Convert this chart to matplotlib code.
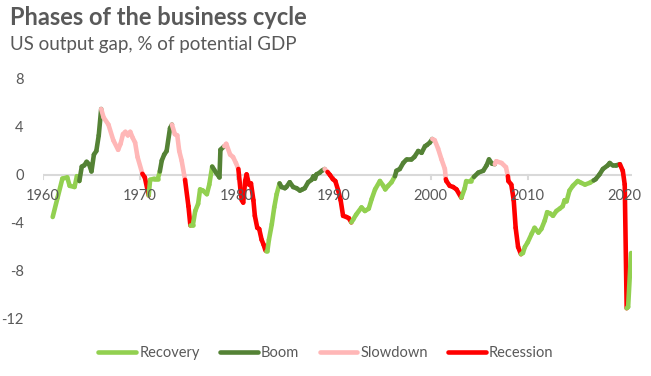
import numpy as np
import matplotlib
matplotlib.use("Agg")
import matplotlib.pyplot as plt

# US output gap readings (% of potential GDP)
years = [
    1961.0, 1961.5, 1962.0, 1962.5, 1962.75, 1963.25, 1963.5, 1963.75,
    1964.0, 1964.25, 1964.5, 1964.75, 1965.0, 1965.25, 1965.5, 1965.75, 1966.0,
    1966.25, 1966.75, 1967.25, 1967.75, 1968.0, 1968.25, 1968.5, 1968.75, 1969.0,
    1969.25, 1969.5, 1969.75, 1970.25,
    1970.5, 1970.9,
    1971.05, 1971.5, 1971.85, 1972.05,
    1972.25, 1972.5, 1972.75, 1973.1, 1973.3,
    1973.6, 1973.85, 1974.05, 1974.3, 1974.65,
    1975.0, 1975.2,
    1975.45, 1975.7, 1976.0, 1976.2, 1976.5, 1976.9, 1977.15, 1977.45,
    1977.85, 1978.2, 1978.3, 1978.7,
    1978.9, 1979.3, 1979.6, 1979.9, 1980.15,
    1980.35, 1980.5, 1980.65, 1980.85, 1981.0, 1981.25, 1981.45, 1981.7, 1981.85,
    1982.1, 1982.3, 1982.55, 1982.75, 1982.95,
    1983.15, 1983.3, 1983.6, 1983.85, 1984.1, 1984.4,
    1984.6, 1984.95, 1985.1, 1985.45, 1985.8, 1986.15, 1986.5, 1986.75, 1987.0,
    1987.35, 1987.7, 1987.9, 1988.05, 1988.2, 1988.55, 1988.75, 1989.05,
    1989.35,
    1989.6, 1989.9, 1990.15, 1990.45, 1990.7, 1990.95, 1991.3, 1991.55, 1991.8,
    1992.0, 1992.3, 1992.85, 1993.2, 1993.6, 1993.9, 1994.25, 1994.75, 1995.1,
    1995.3, 1995.6, 1995.95, 1996.3,
    1996.45, 1996.8, 1997.15, 1997.5, 1998.0, 1998.3, 1998.7, 1999.05, 1999.4,
    1999.6, 1999.9, 2000.15,
    2000.4, 2000.75, 2001.1, 2001.45, 2001.55,
    2001.6, 2001.95, 2002.3, 2002.65, 2003.15,
    2003.5, 2003.65, 2004.1, 2004.45,
    2004.9, 2005.4, 2005.75, 2006.0, 2006.3, 2006.6,
    2006.75, 2007.3, 2007.75, 2007.95,
    2008.0, 2008.3, 2008.55, 2008.75, 2009.0, 2009.3,
    2009.5, 2009.7, 2010.0, 2010.4, 2010.7, 2011.1, 2011.4, 2011.75, 2012.0,
    2012.3, 2012.6, 2012.95, 2013.3, 2013.6, 2013.8, 2014.0, 2014.3, 2014.65,
    2015.15, 2015.5, 2015.9, 2016.4, 2016.8,
    2017.0, 2017.4, 2017.75, 2018.25, 2018.45, 2018.75, 2019.1, 2019.5,
    2019.8, 2020.0, 2020.2,
    2020.35, 2020.65,
]
gap = [
    -3.5, -1.9, -0.3, -0.2, -0.9, -1.0, -0.1, -0.5,
    0.7, 0.8, 1.1, 0.9, 0.3, 1.7, 2.0, 3.3, 5.5,
    4.8, 4.2, 2.9, 2.1, 2.6, 3.4, 3.6, 3.3, 3.6,
    3.1, 2.7, 1.5, 0.1,
    -0.2, -1.7,
    -0.4, -0.3, -0.3, 0.3,
    1.2, 1.7, 2.0, 3.9, 4.2,
    3.4, 3.3, 2.0, 1.2, -0.4,
    -2.6, -4.2,
    -4.2, -3.0, -2.4, -1.2, -1.3, -1.6, -0.8, 0.7,
    0.2, -0.2, 2.1, 2.4,
    2.6, 1.7, 1.5, 1.0, 0.5,
    -1.1, -2.1, -2.3, -0.5, 0.05, -0.8, -0.7, -2.1, -3.4,
    -4.4, -4.5, -5.4, -5.8, -6.3,
    -6.3, -5.4, -4.1, -2.7, -1.6, -0.7,
    -1.0, -1.1, -1.0, -0.6, -1.0, -1.1, -1.3, -1.2, -1.1,
    -0.6, -0.4, -0.1, -0.3, 0.05, 0.2, 0.35, 0.5,
    0.25,
    0.0, -0.35, -0.5, -1.3, -2.1, -3.4, -3.5, -3.6, -3.95,
    -3.7, -3.3, -2.7, -3.0, -2.8, -2.0, -1.2, -0.5, -0.9,
    -1.2, -0.9, -0.6, -0.1,
    0.35, 0.5, 1.0, 1.3, 1.3, 1.5, 2.0, 1.85, 2.4,
    2.5, 2.7, 3.0,
    2.9, 2.2, 1.3, 0.5, -0.35,
    -0.5, -0.9, -1.0, -1.2, -1.9,
    -1.1, -0.5, -0.5, -0.15,
    0.2, 0.35, 0.8, 1.3, 0.95, 0.9,
    1.15, 1.0, 0.65, -0.1,
    -0.5, -0.8, -2.1, -4.4, -6.0, -6.6,
    -6.5, -6.0, -5.6, -4.9, -4.4, -4.8, -4.5, -3.8, -3.1,
    -3.2, -3.4, -3.0, -2.8, -2.6, -2.1, -2.2, -1.3, -0.9,
    -0.5, -0.65, -0.8, -0.65, -0.45,
    -0.35, 0.05, 0.5, 0.8, 1.0, 0.8, 0.8, 0.9,
    0.35, -0.8, -11.1,
    -11.0, -6.5,
]

# phase changes: start year of each phase
phase_starts = [1961.0, 1963.75, 1966.0, 1970.25, 1970.9, 1972.05, 1973.3, 1974.65,
                1975.2, 1977.45, 1978.7, 1980.15, 1982.95, 1984.4, 1989.05, 1989.35,
                1991.8, 1996.3, 2000.15, 2001.55, 2003.15, 2004.45, 2006.6, 2007.95,
                2009.3, 2016.8, 2019.5, 2020.2]
phase_names = ["Recovery", "Boom", "Slowdown", "Recession", "Recovery", "Boom",
               "Slowdown", "Recession", "Recovery", "Boom", "Slowdown", "Recession",
               "Recovery", "Boom", "Slowdown", "Recession", "Recovery", "Boom",
               "Slowdown", "Recession", "Recovery", "Boom", "Slowdown", "Recession",
               "Recovery", "Boom", "Recession", "Recovery"]

colors = {"Recovery": "#92D050", "Boom": "#548235",
          "Slowdown": "#FFB7B7", "Recession": "#FF0000"}
text_col = "#595959"
decades = [1960, 1970, 1980, 1990, 2000, 2010, 2020]

plt.rcParams['font.family'] = ['Lato', 'DejaVu Sans']

fig = plt.figure(figsize=(6.51, 3.76), dpi=100)
ax = fig.add_axes([43 / 651, 1 - 319 / 376, (632 - 43) / 651, 240 / 376])

x = np.array(years)
y = np.array(gap)
starts = np.array(phase_starts)
for i in range(len(x) - 1):
    mid = (x[i] + x[i + 1]) / 2
    k = np.searchsorted(starts, mid) - 1
    ax.plot(x[i:i + 2], y[i:i + 2], color=colors[phase_names[k]], lw=3.3,
            solid_capstyle='round', solid_joinstyle='round')

ax.set_xlim(1960, 2020.75)
ax.set_ylim(-12, 8)
ax.set_yticks([-12, -8, -4, 0, 4, 8])
ax.set_yticklabels(["-12", "-8", "-4", "0", "4", "8"])
ax.set_xticks([])

for s in ["top", "right", "left", "bottom"]:
    ax.spines[s].set_visible(False)
ax.axhline(0, color="#D9D9D9", lw=1.5, zorder=0)
for xt in decades:
    ax.plot([xt, xt], [0, -0.35], color="#D9D9D9", lw=1.5, zorder=0)

ax.tick_params(axis='y', length=0, pad=14, labelsize=10.5, labelcolor=text_col)
# x labels sit just under the zero line
for xt in decades:
    ax.text(xt, -1.75, str(xt), ha='center', va='center', fontsize=10.5, color=text_col)

fig.text(10 / 651, 1 - 25 / 376, "Phases of the business cycle", fontsize=17,
         fontweight='bold', color=text_col, va='baseline')
fig.text(10 / 651, 1 - 50 / 376, "US output gap, % of potential GDP", fontsize=13.5,
         color=text_col, va='baseline')

handles = [plt.Line2D([], [], color=colors[n], lw=3.3, solid_capstyle='round')
           for n in ["Recovery", "Boom", "Slowdown", "Recession"]]
fig.legend(handles, ["Recovery", "Boom", "Slowdown", "Recession"], loc='center',
           bbox_to_anchor=(326 / 651, 1 - 353 / 376), ncol=4, frameon=False,
           fontsize=10.5, labelcolor=text_col, handlelength=2.6, handletextpad=0.2,
           columnspacing=1.4)

fig.savefig("out.png", dpi=100)
